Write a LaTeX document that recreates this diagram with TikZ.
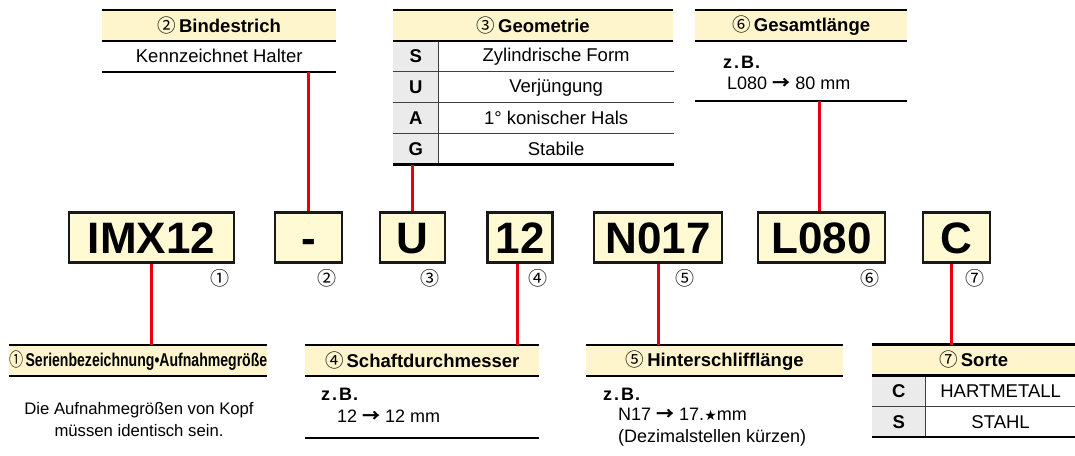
\documentclass[tikz,border=0pt]{standalone}
\usepackage{fontspec}
\setmainfont{Liberation Sans}
\newfontfamily\symfont{DejaVu Sans}
\newfontfamily\cjkfont{Noto Sans CJK JP}
\usetikzlibrary{positioning}

\definecolor{hdrfill}{HTML}{FFF5CC}
\definecolor{codefill}{HTML}{FFF9D4}
\definecolor{keyfill}{HTML}{EBEBEB}
\definecolor{linkred}{HTML}{E50012}
\newcommand{\cnum}[1]{{\cjkfont\mdseries #1}}
\newcommand{\zb}{z\kern2pt.\kern2pt B\kern1pt.}
\newcommand{\toarr}{{\cjkfont\bfseries →}}

\begin{document}
\begin{tikzpicture}[
    x=1pt, y=-1pt,
    hdr/.style={fill=hdrfill, inner sep=0pt, minimum height=30.5pt,
                anchor=north west, font=\fontsize{18.5}{22}\selectfont\bfseries},
    cell/.style={inner sep=0pt, minimum height=30.5pt, anchor=north west,
                 font=\fontsize{18.5}{22}\selectfont},
    keycell/.style={cell, fill=keyfill, font=\fontsize{18.5}{22}\selectfont\bfseries},
    code/.style={draw=black!90, line width=2.2pt, fill=codefill, inner sep=0pt,
                 minimum height=50pt, text height=31.5pt, text depth=0pt,
                 font=\fontsize{44}{48}\selectfont\bfseries},
    idx/.style={inner sep=0pt, font=\fontsize{19}{22}\selectfont\cjkfont},
    rule/.style={line width=2.2pt, black},
    sep/.style={line width=1.2pt, black!75},
    link/.style={line width=3pt, linkred},
    txt/.style={inner sep=0pt, anchor=west, font=\fontsize{18}{22}\selectfont},
    eg/.style={inner sep=0pt, anchor=west, font=\fontsize{18}{22}\selectfont\bfseries},
]
    \path[use as bounding box, fill=white] (0,0) rectangle (1075,455);

    % code row
    \node[code, minimum width=165pt] (imx) at (151.5,237.5) {IMX12};
    \node[code, minimum width=67pt] (dash) at (308.5,237.5) {-};
    \node[code, minimum width=65pt] (geo) at (412.5,237.5) {U};
    \node[code, minimum width=65pt] (dia) at (520,237.5) {12};
    \node[code, minimum width=128pt] (neck) at (658,237.5) {N017};
    \node[code, minimum width=127pt] (len) at (821.5,237.5) {L080};
    \node[code, minimum width=67pt] (grade) at (956.5,237.5) {C};

    \node[idx] (n1) at (220,278) {①};
    \node[idx] (n2) at (327,278) {②};
    \node[idx] (n3) at (430,278) {③};
    \node[idx] (n4) at (538,278) {④};
    \node[idx] (n5) at (685,278) {⑤};
    \node[idx] (n6) at (870,278) {⑥};
    \node[idx] (n7) at (975,278) {⑦};

    % top blocks
    \node[hdr, minimum width=234pt] (bindhd) at (102,10) {\cnum{②}\,Bindestrich};
    \node[cell, minimum width=234pt] (bindrow) at (bindhd.south west) {Kennzeichnet Halter};
    \draw[rule] (bindhd.north west) -- (bindhd.north east);
    \draw[rule] (bindhd.south west) -- (bindhd.south east);
    \draw[rule] (bindrow.south west) -- (bindrow.south east);

    \node[hdr, minimum width=280pt] (geohd) at (393,10) {\cnum{③}\,Geometrie};
    \node[keycell, minimum width=45pt] (geok1) at (geohd.south west) {S};
    \node[cell, minimum width=235pt] (geov1) at (geok1.north east) {Zylindrische Form};
    \node[keycell, minimum width=45pt] (geok2) at (geok1.south west) {U};
    \node[cell, minimum width=235pt] (geov2) at (geok2.north east) {Verjüngung};
    \node[keycell, minimum width=45pt] (geok3) at (geok2.south west) {A};
    \node[cell, minimum width=235pt] (geov3) at (geok3.north east) {1° konischer Hals};
    \node[keycell, minimum width=45pt] (geok4) at (geok3.south west) {G};
    \node[cell, minimum width=235pt] (geov4) at (geok4.north east) {Stabile};
    \draw[sep] (geok1.south west) -- (geov1.south east);
    \draw[sep] (geok2.south west) -- (geov2.south east);
    \draw[sep] (geok3.south west) -- (geov3.south east);
    \draw[sep] (geok1.north east) -- (geok4.south east);
    \draw[rule] (geohd.north west) -- (geohd.north east);
    \draw[rule] (geohd.south west) -- (geohd.south east);
    \draw[rule] (geok4.south west) -- (geov4.south east);

    \node[hdr, minimum width=212pt] (lenhd) at (695,10) {\cnum{⑥}\,Gesamtlänge};
    \node[cell, minimum width=212pt, minimum height=60pt] (lenrow) at (lenhd.south west) {};
    \node[eg] (leneg) at (723,62) {\zb};
    \node[txt] (lenval) at (727,83) {L080 \toarr{} 80 mm};
    \draw[rule] (lenhd.north west) -- (lenhd.north east);
    \draw[rule] (lenhd.south west) -- (lenhd.south east);
    \draw[rule] (lenrow.south west) -- (lenrow.south east);

    % bottom blocks
    \node[hdr, minimum width=257pt] (serhd) at (9,345)
        {\scalebox{0.76}[1]{\cnum{①}\,Serienbezeichnung•Aufnahmegröße}};
    \node[align=center, inner sep=0pt, font=\fontsize{16.7}{22}\selectfont]
        (sernote) at (139,420) {Die Aufnahmegrößen von Kopf\\müssen identisch sein.};
    \draw[rule] (serhd.north west) -- (serhd.north east);
    \draw[rule] (serhd.south west) -- (serhd.south east);

    \node[hdr, minimum width=234pt] (diahd) at (305,345) {\cnum{④}\,Schaftdurchmesser};
    \node[cell, minimum width=234pt, minimum height=62pt] (diarow) at (diahd.south west) {};
    \node[eg] (diaeg) at (321,394) {\zb};
    \node[txt] (diaval) at (337,416) {12 \toarr{} 12 mm};
    \draw[rule] (diahd.north west) -- (diahd.north east);
    \draw[rule] (diahd.south west) -- (diahd.south east);
    \draw[rule] (diarow.south west) -- (diarow.south east);

    \node[hdr, minimum width=257pt] (neckhd) at (586,345) {\cnum{⑤}\,Hinterschlifflänge};
    \node[eg] (neckeg) at (603,394) {\zb};
    \node[txt, align=left] (neckval) at (618,427)
        {N17 \toarr{} 17.{\symfont\bfseries\fontsize{14}{14}\selectfont ★}mm\\(Dezimalstellen kürzen)};
    \draw[rule] (neckhd.north west) -- (neckhd.north east);
    \draw[rule] (neckhd.south west) -- (neckhd.south east);

    \node[hdr, minimum width=203pt] (gradehd) at (872,344.5) {\cnum{⑦}\,Sorte};
    \node[keycell, minimum width=53pt] (gradek1) at (gradehd.south west) {C};
    \node[cell, minimum width=150pt] (gradev1) at (gradek1.north east) {HARTMETALL};
    \node[keycell, minimum width=53pt] (gradek2) at (gradek1.south west) {S};
    \node[cell, minimum width=150pt] (gradev2) at (gradek2.north east) {STAHL};
    \draw[sep] (gradek1.south west) -- (gradev1.south east);
    \draw[sep] (gradek1.north east) -- (gradek2.south east);
    \draw[rule] (gradehd.north west) -- (gradehd.north east);
    \draw[rule] (gradehd.south west) -- (gradehd.south east);
    \draw[rule] (gradek2.south west) -- (gradev2.south east);

    % connectors
    \draw[link] (dash.north) -- (dash.north |- bindrow.south);
    \draw[link] (geo.north) -- (geo.north |- geok4.south);
    \draw[link] ([xshift=-2pt]len.north) -- ([xshift=-2pt]len.north |- lenrow.south);
    \draw[link] (imx.south) -- (imx.south |- serhd.north);
    \draw[link] ([xshift=-3pt]dia.south) -- ([xshift=-3pt]dia.south |- diahd.north);
    \draw[link] (neck.south) -- (neck.south |- neckhd.north);
    \draw[link] ([xshift=-5pt]grade.south) -- ([xshift=-5pt]grade.south |- gradehd.north);

\end{tikzpicture}
\end{document}
